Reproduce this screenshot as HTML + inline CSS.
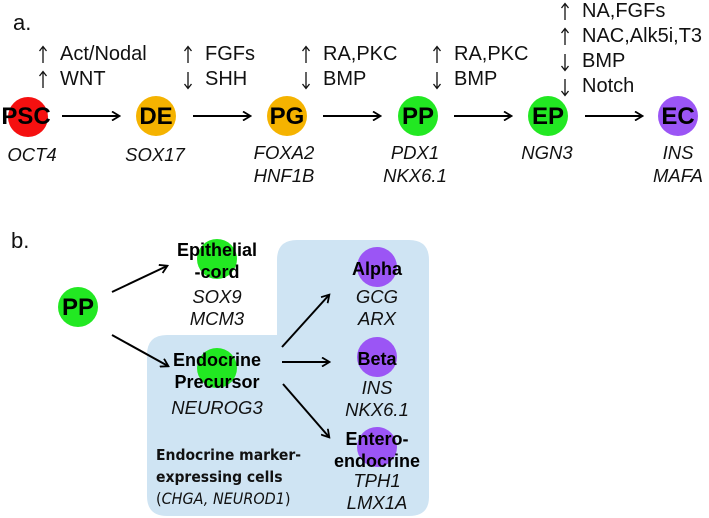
<!DOCTYPE html>
<html><head><meta charset="utf-8"><style>
html,body{margin:0;padding:0;background:#fff;}
svg{display:block;}
text{font-family:"Liberation Sans",Arial,sans-serif;}
.n{font-size:20px;fill:#111;}
.g{font-size:18.5px;font-style:italic;fill:#111;}
.c{font-size:24px;font-weight:bold;fill:#000;}
.b{font-size:18px;font-weight:bold;fill:#000;}
.cal{font-family:"DejaVu Sans Condensed","DejaVu Sans",sans-serif;font-size:15.5px;font-weight:bold;fill:#111;}
.cn{font-family:"DejaVu Sans Condensed","DejaVu Sans",sans-serif;font-size:16px;fill:#111;}
</style></head><body>
<svg width="709" height="518" viewBox="0 0 709 518" xmlns="http://www.w3.org/2000/svg">
<defs><marker id="ah" markerWidth="10" markerHeight="10" refX="8" refY="5" orient="auto" markerUnits="userSpaceOnUse"><path d="M1,0.5 L8.5,5 L1,9.5" fill="none" stroke="#000" stroke-width="1.8"/></marker></defs>
<text x="13" y="30" style="font-size:22px;fill:#111">a.</text>
<!-- regulators -->
<g class="n">
<text x="60" y="60">Act/Nodal</text>
<text x="60" y="85">WNT</text>
<text x="205" y="60">FGFs</text>
<text x="205" y="85">SHH</text>
<text x="323" y="60">RA,PKC</text>
<text x="323" y="85">BMP</text>
<text x="454" y="60">RA,PKC</text>
<text x="454" y="85">BMP</text>
<text x="582" y="17">NA,FGFs</text>
<text x="582" y="42">NAC,Alk5i,T3</text>
<text x="582" y="67">BMP</text>
<text x="582" y="92">Notch</text>
</g>
<g stroke="#111" stroke-width="1.3" fill="none">
<!-- up arrows: M x,b+1 V b-14 ; head -->
<path d="M43,63 V47 M39.5,51 L43,46.5 L46.5,51"/>
<path d="M43,88 V72 M39.5,76 L43,71.5 L46.5,76"/>
<path d="M188,63 V47 M184.5,51 L188,46.5 L191.5,51"/>
<path d="M188,72 V88 M184.5,84 L188,88.5 L191.5,84"/>
<path d="M306,63 V47 M302.5,51 L306,46.5 L309.5,51"/>
<path d="M306,72 V88 M302.5,84 L306,88.5 L309.5,84"/>
<path d="M437,63 V47 M433.5,51 L437,46.5 L440.5,51"/>
<path d="M437,72 V88 M433.5,84 L437,88.5 L440.5,84"/>
<path d="M565,20 V4 M561.5,8 L565,3.5 L568.5,8"/>
<path d="M565,45 V29 M561.5,33 L565,28.5 L568.5,33"/>
<path d="M565,54 V70 M561.5,66 L565,70.5 L568.5,66"/>
<path d="M565,79 V95 M561.5,91 L565,95.5 L568.5,91"/>
</g>
<!-- circles a -->
<circle cx="28" cy="117" r="20" fill="#f51010"/>
<circle cx="156" cy="116" r="20" fill="#f5b300"/>
<circle cx="287" cy="116" r="20" fill="#f5b300"/>
<circle cx="418" cy="116" r="20" fill="#22e822"/>
<circle cx="548" cy="116" r="20" fill="#22e822"/>
<circle cx="678" cy="116" r="20" fill="#9b55f5"/>
<g class="c" text-anchor="middle">
<text x="26" y="124">PSC</text><text x="156" y="124">DE</text><text x="287" y="124">PG</text>
<text x="418" y="124">PP</text><text x="548" y="124">EP</text><text x="678" y="124">EC</text>
</g>
<g stroke="#000" stroke-width="2" marker-end="url(#ah)">
<line x1="62" y1="116" x2="119" y2="116"/>
<line x1="193" y1="116" x2="250" y2="116"/>
<line x1="323" y1="116" x2="380" y2="116"/>
<line x1="454" y1="116" x2="511" y2="116"/>
<line x1="585" y1="116" x2="642" y2="116"/>
</g>
<g class="g" text-anchor="middle">
<text x="32" y="161">OCT4</text><text x="155" y="161">SOX17</text>
<text x="284" y="159">FOXA2</text><text x="284" y="182">HNF1B</text>
<text x="415" y="159">PDX1</text><text x="415" y="182">NKX6.1</text>
<text x="547" y="159">NGN3</text>
<text x="678" y="159">INS</text><text x="678" y="182">MAFA</text>
</g>
<!-- part b -->
<text x="11" y="248" style="font-size:22px;fill:#111">b.</text>
<path d="M297,240 H409 Q429,240 429,260 V497 Q429,516 409,516 H167 Q147,516 147,496 V355 Q147,335 167,335 H277 V260 Q277,240 297,240 Z" fill="#cfe4f3"/>
<circle cx="78" cy="307" r="20" fill="#22e822"/>
<text x="78" y="315" class="c" text-anchor="middle">PP</text>
<circle cx="217" cy="259" r="20" fill="#22e822"/>
<circle cx="217" cy="368" r="20" fill="#22e822"/>
<circle cx="377" cy="267" r="20" fill="#9b55f5"/>
<circle cx="377" cy="357" r="20" fill="#9b55f5"/>
<circle cx="377" cy="447" r="20" fill="#9b55f5"/>
<g stroke="#000" stroke-width="2" marker-end="url(#ah)">
<line x1="112" y1="292" x2="167" y2="266"/>
<line x1="112" y1="335" x2="168" y2="366"/>
<line x1="282" y1="347" x2="329" y2="295"/>
<line x1="282" y1="362" x2="329" y2="362"/>
<line x1="283" y1="384" x2="329" y2="437"/>
</g>
<g class="b" text-anchor="middle">
<text x="217" y="256">Epithelial</text><text x="217" y="278">-cord</text>
<text x="217" y="366">Endocrine</text><text x="217" y="388">Precursor</text>
<text x="377" y="275">Alpha</text>
<text x="377" y="365">Beta</text>
<text x="377" y="445">Entero-</text><text x="377" y="467">endocrine</text>
</g>
<g class="g" text-anchor="middle">
<text x="217" y="303">SOX9</text><text x="217" y="325">MCM3</text>
<text x="217" y="414">NEUROG3</text>
<text x="377" y="303">GCG</text><text x="377" y="325">ARX</text>
<text x="377" y="394">INS</text><text x="377" y="416">NKX6.1</text>
<text x="377" y="487">TPH1</text><text x="377" y="509">LMX1A</text>
</g>
<text x="156" y="460" class="cal">Endocrine marker-</text>
<text x="156" y="482" class="cal">expressing cells</text>
<text x="156" y="504" class="cn">(<tspan font-style="italic">CHGA, NEUROD1</tspan>)</text>
</svg>
</body></html>
